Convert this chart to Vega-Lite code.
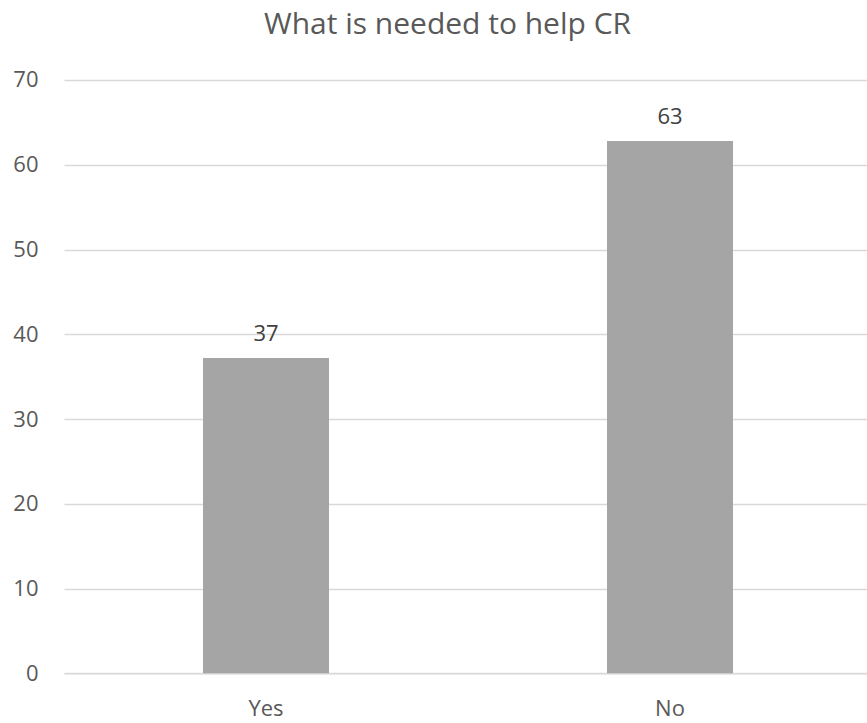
{
  "$schema": "https://vega.github.io/schema/vega-lite/v6.json",
  "autosize": {"type": "none"},
  "padding": {"left": 64, "top": 80, "right": 0, "bottom": 50},
  "width": 803,
  "height": 593.3,
  "background": "white",
  "title": {
    "text": "What is needed to help CR",
    "font": "Open Sans",
    "fontSize": 30,
    "fontWeight": "normal",
    "color": "#595959",
    "anchor": "middle",
    "frame": "group",
    "baseline": "alphabetic",
    "offset": 5,
    "dx": -18
  },
  "config": {
    "view": {"stroke": null},
    "axis": {
      "labelFont": "Open Sans",
      "labelFontSize": 22,
      "labelColor": "#595959",
      "ticks": false,
      "title": null
    }
  },
  "data": {
    "values": [
      {"answer": "Yes", "value": 37.2},
      {"answer": "No", "value": 62.8}
    ]
  },
  "encoding": {
    "x": {
      "field": "answer",
      "type": "nominal",
      "sort": ["Yes", "No"],
      "scale": {"range": [0, 808], "paddingInner": 0, "paddingOuter": 0},
      "axis": {
        "labelAngle": 0,
        "labelPadding": 25,
        "domainColor": "#D9D9D9",
        "domainWidth": 1.5,
        "grid": false
      }
    },
    "y": {
      "field": "value",
      "type": "quantitative",
      "scale": {"domain": [0, 70], "nice": false},
      "axis": {
        "values": [0, 10, 20, 30, 40, 50, 60, 70],
        "domain": false,
        "gridColor": "#D9D9D9",
        "gridWidth": 1.5,
        "labelPadding": 26
      }
    }
  },
  "layer": [
    {"mark": {"type": "bar", "width": 126, "color": "#A5A5A5"}},
    {
      "mark": {
        "type": "text",
        "font": "Open Sans",
        "fontSize": 22,
        "color": "#404040",
        "baseline": "alphabetic",
        "dy": -17
      },
      "encoding": {
        "text": {"field": "value", "type": "quantitative", "format": ".0f"}
      }
    }
  ]
}
